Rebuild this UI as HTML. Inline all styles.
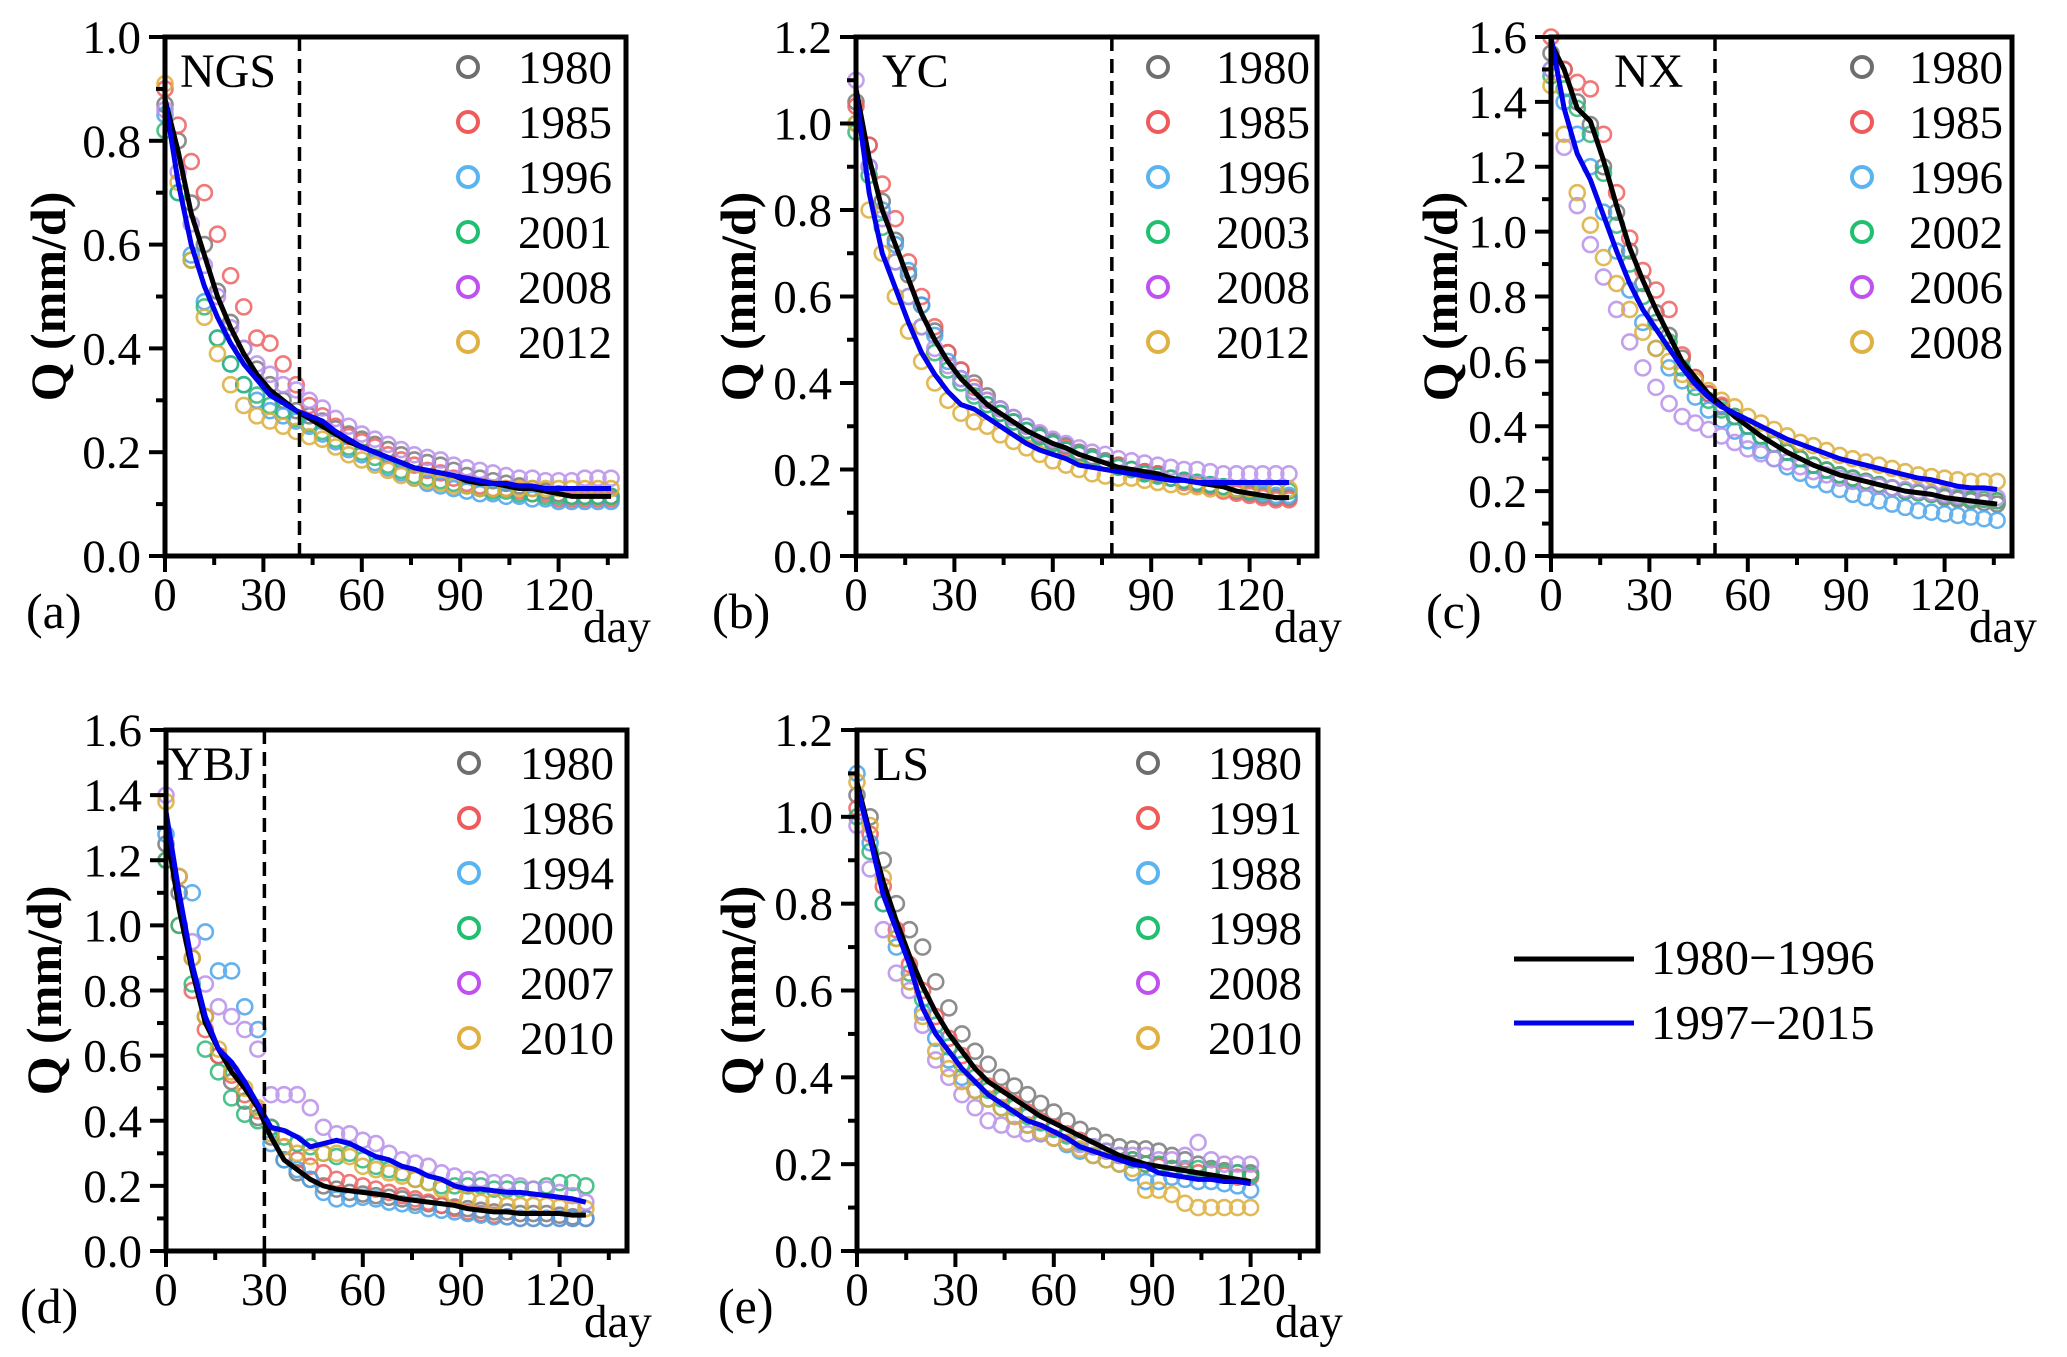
<!DOCTYPE html>
<html><head><meta charset="utf-8"><style>
html,body{margin:0;padding:0;background:#fff;}
svg{display:block;font-family:"Liberation Serif","Times New Roman",serif;}
</style></head><body>
<svg id="chart" width="2067" height="1357" viewBox="0 0 2067 1357" xmlns="http://www.w3.org/2000/svg">
<g id="legend">
<line x1="1514" y1="959" x2="1634" y2="959" stroke="#000" stroke-width="5"/>
<text x="1651" y="974" font-size="49">1980−1996</text>
<line x1="1514" y1="1023" x2="1634" y2="1023" stroke="#0000ee" stroke-width="5"/>
<text x="1651" y="1039" font-size="49">1997−2015</text>
</g>
</svg>
<script>
// ---- data (step of 4 days) ----
const stepDays = 4;
const colors = ["#6e6e6e","#f05a5a","#5ab4f0","#20c070","#c050f0","#e0b040"];
const dotColors = ["#7a7a7a","#f06060","#4aa4ea","#30b878","#b890ea","#dcae3a"];

const aYears = ["1980","1985","1996","2001","2008","2012"];
const aBlack = [0.88,0.78,0.66,0.58,0.50,0.44,0.39,0.35,0.32,0.30,0.28,0.265,0.25,0.235,0.22,0.21,0.20,0.19,0.18,0.17,0.165,0.16,0.155,0.145,0.14,0.14,0.135,0.13,0.13,0.125,0.12,0.115,0.115,0.115,0.115];
const aBlue = [0.88,0.72,0.60,0.52,0.46,0.41,0.37,0.34,0.31,0.295,0.28,0.27,0.26,0.24,0.225,0.21,0.20,0.19,0.18,0.17,0.165,0.16,0.155,0.15,0.145,0.14,0.14,0.135,0.135,0.13,0.13,0.13,0.13,0.13,0.13];
const aS1980 = [0.87,0.80,0.68,0.60,0.51,0.45,0.40,0.36,0.33,0.30,0.28,0.27,0.26,0.245,0.235,0.225,0.215,0.205,0.195,0.185,0.18,0.175,0.165,0.155,0.15,0.145,0.14,0.135,0.13,0.125,0.12,0.115,0.115,0.115,0.115];
const aS1985 = [0.90,0.83,0.76,0.70,0.62,0.54,0.48,0.42,0.41,0.37,0.33,0.29,0.27,0.25,0.23,0.22,0.21,0.195,0.185,0.175,0.165,0.16,0.15,0.14,0.135,0.13,0.13,0.125,0.12,0.12,0.11,0.11,0.11,0.11,0.11];
const aS1996 = [0.85,0.70,0.58,0.49,0.42,0.37,0.33,0.30,0.28,0.27,0.26,0.25,0.235,0.22,0.205,0.195,0.18,0.17,0.16,0.15,0.14,0.135,0.13,0.125,0.12,0.12,0.115,0.115,0.11,0.11,0.105,0.105,0.105,0.105,0.105];
const aS2001 = [0.82,0.70,0.57,0.48,0.42,0.37,0.33,0.31,0.29,0.28,0.265,0.255,0.24,0.225,0.21,0.20,0.19,0.175,0.165,0.155,0.15,0.145,0.14,0.135,0.13,0.125,0.125,0.12,0.12,0.115,0.115,0.115,0.115,0.115,0.115];
const aS2008 = [0.86,0.74,0.64,0.56,0.50,0.44,0.40,0.37,0.35,0.33,0.32,0.30,0.285,0.265,0.25,0.235,0.225,0.215,0.205,0.195,0.19,0.185,0.175,0.17,0.165,0.16,0.155,0.15,0.15,0.145,0.145,0.145,0.15,0.15,0.15];
const aS2012 = [0.91,0.72,0.57,0.46,0.39,0.33,0.29,0.27,0.26,0.25,0.24,0.23,0.225,0.21,0.195,0.185,0.175,0.165,0.155,0.15,0.145,0.14,0.135,0.135,0.13,0.13,0.13,0.13,0.13,0.13,0.13,0.13,0.13,0.13,0.13];

const bYears = ["1980","1985","1996","2003","2008","2012"];
const bBlack = [1.08,0.92,0.80,0.72,0.64,0.56,0.50,0.45,0.41,0.38,0.35,0.33,0.31,0.29,0.275,0.26,0.25,0.235,0.225,0.215,0.205,0.20,0.195,0.19,0.18,0.175,0.17,0.165,0.16,0.15,0.145,0.14,0.135,0.135];
const bBlue = [1.07,0.84,0.70,0.62,0.54,0.47,0.42,0.38,0.35,0.34,0.32,0.30,0.28,0.26,0.245,0.235,0.225,0.21,0.205,0.20,0.195,0.19,0.185,0.18,0.175,0.175,0.17,0.17,0.17,0.17,0.17,0.17,0.17,0.17];
const bS1980 = [1.05,0.95,0.82,0.73,0.65,0.58,0.52,0.47,0.43,0.40,0.37,0.34,0.32,0.30,0.28,0.265,0.255,0.24,0.23,0.22,0.21,0.20,0.195,0.19,0.18,0.175,0.17,0.165,0.16,0.15,0.145,0.14,0.135,0.135];
const bS1985 = [1.04,0.95,0.86,0.78,0.68,0.60,0.53,0.47,0.43,0.39,0.36,0.33,0.31,0.29,0.275,0.26,0.25,0.235,0.225,0.215,0.21,0.20,0.195,0.19,0.18,0.17,0.165,0.16,0.15,0.145,0.14,0.135,0.13,0.13];
const bS1996 = [1.00,0.90,0.80,0.72,0.66,0.58,0.51,0.45,0.41,0.38,0.35,0.33,0.31,0.29,0.275,0.26,0.245,0.235,0.225,0.215,0.205,0.20,0.19,0.185,0.18,0.175,0.17,0.165,0.16,0.155,0.15,0.145,0.14,0.14];
const bS2003 = [0.98,0.88,0.76,0.68,0.60,0.53,0.47,0.43,0.40,0.37,0.35,0.33,0.31,0.29,0.275,0.26,0.245,0.235,0.225,0.215,0.205,0.20,0.19,0.185,0.18,0.175,0.17,0.165,0.16,0.155,0.15,0.15,0.15,0.15];
const bS2008 = [1.10,0.90,0.78,0.68,0.60,0.53,0.48,0.44,0.41,0.38,0.36,0.34,0.32,0.30,0.285,0.27,0.26,0.25,0.24,0.235,0.225,0.22,0.215,0.21,0.205,0.20,0.20,0.195,0.19,0.19,0.19,0.19,0.19,0.19];
const bS2012 = [1.00,0.80,0.70,0.60,0.52,0.45,0.40,0.36,0.33,0.31,0.30,0.28,0.265,0.25,0.235,0.22,0.21,0.20,0.19,0.185,0.18,0.18,0.175,0.17,0.165,0.16,0.16,0.155,0.155,0.155,0.155,0.155,0.155,0.155];

const cYears = ["1980","1985","1996","2002","2006","2008"];
const cBlack = [1.58,1.50,1.38,1.34,1.22,1.08,0.95,0.85,0.76,0.68,0.60,0.55,0.50,0.465,0.43,0.40,0.37,0.345,0.32,0.30,0.28,0.265,0.25,0.24,0.23,0.22,0.21,0.20,0.195,0.19,0.18,0.175,0.17,0.165,0.16];
const cBlue = [1.60,1.38,1.24,1.16,1.05,0.94,0.84,0.76,0.70,0.64,0.58,0.53,0.49,0.46,0.44,0.42,0.40,0.38,0.36,0.345,0.33,0.315,0.30,0.29,0.28,0.27,0.26,0.25,0.24,0.235,0.225,0.215,0.21,0.21,0.205];
const cS1980 = [1.55,1.50,1.40,1.33,1.20,1.06,0.94,0.84,0.75,0.68,0.61,0.55,0.50,0.46,0.43,0.40,0.37,0.345,0.32,0.30,0.28,0.265,0.25,0.24,0.23,0.22,0.21,0.20,0.195,0.19,0.18,0.175,0.17,0.165,0.16];
const cS1985 = [1.60,1.50,1.46,1.44,1.30,1.12,0.98,0.88,0.82,0.76,0.62,0.55,0.50,0.465,0.43,0.40,0.37,0.345,0.32,0.30,0.28,0.265,0.25,0.24,0.23,0.22,0.21,0.20,0.195,0.19,0.185,0.18,0.175,0.175,0.17];
const cS1996 = [1.50,1.40,1.30,1.20,1.06,0.94,0.82,0.72,0.64,0.58,0.54,0.49,0.45,0.42,0.385,0.355,0.325,0.30,0.275,0.255,0.235,0.22,0.205,0.19,0.18,0.17,0.16,0.15,0.14,0.135,0.13,0.125,0.12,0.115,0.11];
const cS2002 = [1.48,1.44,1.38,1.30,1.18,1.02,0.90,0.80,0.72,0.66,0.58,0.52,0.48,0.45,0.43,0.40,0.37,0.345,0.32,0.30,0.28,0.265,0.25,0.24,0.23,0.22,0.21,0.20,0.195,0.19,0.185,0.18,0.175,0.175,0.17];
const cS2006 = [1.50,1.26,1.08,0.96,0.86,0.76,0.66,0.58,0.52,0.47,0.43,0.41,0.39,0.37,0.35,0.33,0.315,0.30,0.29,0.275,0.26,0.25,0.24,0.23,0.225,0.215,0.21,0.205,0.20,0.195,0.19,0.185,0.185,0.18,0.18];
const cS2008 = [1.45,1.30,1.12,1.02,0.92,0.84,0.76,0.69,0.64,0.60,0.56,0.54,0.51,0.48,0.46,0.43,0.41,0.39,0.37,0.35,0.34,0.325,0.31,0.30,0.29,0.28,0.27,0.26,0.25,0.245,0.24,0.235,0.23,0.23,0.23];

const dYears = ["1980","1986","1994","2000","2007","2010"];
const dBlack = [1.30,1.05,0.86,0.70,0.62,0.55,0.50,0.44,0.35,0.28,0.25,0.22,0.20,0.19,0.185,0.18,0.175,0.17,0.16,0.155,0.15,0.145,0.14,0.13,0.125,0.12,0.12,0.115,0.115,0.115,0.115,0.11,0.11];
const dBlue = [1.35,1.10,0.88,0.72,0.62,0.58,0.52,0.45,0.38,0.37,0.35,0.32,0.33,0.34,0.33,0.31,0.29,0.28,0.26,0.25,0.23,0.22,0.20,0.19,0.19,0.185,0.18,0.18,0.175,0.17,0.165,0.16,0.15];
const dS1980 = [1.25,1.10,0.90,0.72,0.60,0.52,0.46,0.41,0.35,0.28,0.24,0.22,0.20,0.19,0.18,0.175,0.17,0.165,0.16,0.15,0.145,0.14,0.135,0.13,0.125,0.12,0.12,0.115,0.115,0.115,0.11,0.105,0.10];
const dS1986 = [1.20,1.00,0.80,0.68,0.60,0.54,0.48,0.43,0.38,0.32,0.28,0.26,0.24,0.22,0.21,0.20,0.19,0.18,0.17,0.16,0.15,0.14,0.13,0.12,0.115,0.11,0.105,0.10,0.10,0.10,0.10,0.10,0.10];
const dS1994 = [1.28,1.15,1.10,0.98,0.86,0.86,0.75,0.68,0.33,0.28,0.25,0.22,0.18,0.16,0.16,0.165,0.16,0.15,0.145,0.14,0.13,0.125,0.12,0.115,0.11,0.105,0.105,0.10,0.10,0.10,0.10,0.10,0.10];
const dS2000 = [1.20,1.00,0.82,0.62,0.55,0.47,0.42,0.40,0.38,0.35,0.33,0.32,0.30,0.29,0.30,0.28,0.26,0.25,0.24,0.22,0.21,0.20,0.20,0.20,0.20,0.19,0.19,0.19,0.19,0.20,0.21,0.21,0.20];
const dS2007 = [1.40,1.15,0.95,0.82,0.75,0.72,0.68,0.62,0.48,0.48,0.48,0.44,0.38,0.36,0.36,0.34,0.33,0.30,0.28,0.27,0.26,0.24,0.23,0.22,0.22,0.21,0.21,0.20,0.19,0.19,0.18,0.17,0.15];
const dS2010 = [1.38,1.15,0.90,0.72,0.62,0.55,0.50,0.44,0.36,0.32,0.30,0.29,0.30,0.30,0.29,0.26,0.25,0.24,0.23,0.22,0.21,0.19,0.17,0.16,0.15,0.15,0.14,0.14,0.14,0.14,0.135,0.13,0.13];

const eYears = ["1980","1991","1988","1998","2008","2010"];
const eBlack = [1.08,0.96,0.85,0.76,0.68,0.61,0.55,0.50,0.46,0.42,0.39,0.37,0.35,0.33,0.31,0.295,0.28,0.265,0.25,0.235,0.22,0.21,0.20,0.195,0.19,0.185,0.18,0.175,0.17,0.165,0.16];
const eBlue = [1.07,0.95,0.82,0.74,0.66,0.56,0.50,0.46,0.42,0.39,0.36,0.34,0.32,0.30,0.29,0.275,0.26,0.24,0.23,0.22,0.21,0.20,0.195,0.18,0.175,0.17,0.165,0.165,0.16,0.16,0.155];
const eS1980 = [1.05,1.00,0.90,0.80,0.74,0.70,0.62,0.56,0.50,0.46,0.43,0.40,0.38,0.36,0.34,0.32,0.30,0.28,0.265,0.25,0.24,0.235,0.235,0.23,0.22,0.21,0.20,0.19,0.185,0.18,0.18];
const eS1991 = [1.02,0.96,0.84,0.74,0.66,0.60,0.54,0.49,0.45,0.41,0.38,0.36,0.34,0.32,0.30,0.285,0.27,0.255,0.24,0.23,0.22,0.21,0.20,0.195,0.19,0.185,0.18,0.18,0.175,0.17,0.17];
const eS1988 = [1.10,0.94,0.80,0.70,0.62,0.55,0.49,0.44,0.40,0.37,0.35,0.33,0.31,0.29,0.27,0.26,0.245,0.23,0.22,0.21,0.20,0.18,0.16,0.16,0.17,0.165,0.16,0.16,0.155,0.15,0.14];
const eS1998 = [1.00,0.92,0.80,0.72,0.64,0.58,0.52,0.47,0.43,0.40,0.37,0.35,0.33,0.31,0.295,0.28,0.265,0.25,0.24,0.23,0.22,0.21,0.20,0.20,0.19,0.19,0.19,0.185,0.18,0.18,0.175];
const eS2008 = [0.98,0.88,0.74,0.64,0.60,0.52,0.44,0.40,0.36,0.33,0.30,0.29,0.28,0.27,0.27,0.26,0.25,0.245,0.24,0.23,0.22,0.22,0.22,0.21,0.21,0.22,0.25,0.21,0.20,0.20,0.20];
const eS2010 = [1.08,0.98,0.86,0.72,0.62,0.54,0.46,0.42,0.39,0.37,0.35,0.33,0.31,0.29,0.275,0.26,0.25,0.235,0.22,0.21,0.20,0.19,0.14,0.14,0.13,0.11,0.10,0.10,0.10,0.10,0.10];

const panels = [
 {id:"a",name:"NGS",left:165,top:37,bottom:556,yMax:1.0,split:41,years:aYears,series:[aS1980,aS1985,aS1996,aS2001,aS2008,aS2012],black:aBlack,blue:aBlue,legX:468,legTextX:612,legY:67,nameX:180,titleX:48,labX:26},
 {id:"b",name:"YC",left:856,top:37,bottom:556,yMax:1.2,split:78,years:bYears,series:[bS1980,bS1985,bS1996,bS2003,bS2008,bS2012],black:bBlack,blue:bBlue,legX:1158,legTextX:1310,legY:67,nameX:882,titleX:738,labX:712},
 {id:"c",name:"NX",left:1551,top:37,bottom:556,yMax:1.6,split:50,years:cYears,series:[cS1980,cS1985,cS1996,cS2002,cS2006,cS2008],black:cBlack,blue:cBlue,legX:1862,legTextX:2003,legY:67,nameX:1614,titleX:1440,labX:1426},
 {id:"d",name:"YBJ",left:166,top:730,bottom:1251,yMax:1.6,split:30,years:dYears,series:[dS1980,dS1986,dS1994,dS2000,dS2007,dS2010],black:dBlack,blue:dBlue,legX:469,legTextX:614,legY:763,nameX:168,titleX:44,labX:20},
 {id:"e",name:"LS",left:857,top:730,bottom:1251,yMax:1.2,split:null,years:eYears,series:[eS1980,eS1991,eS1988,eS1998,eS2008,eS2010],black:eBlack,blue:eBlue,legX:1148,legTextX:1302,legY:763,nameX:873,titleX:738,labX:718}
];
const pxPerDay = 3.28;
const plotWidth = 461;
const NS = "http://www.w3.org/2000/svg";
const svg = document.getElementById("chart");
function mk(tag, attrs, parent){const e=document.createElementNS(NS,tag);for(const k in attrs)e.setAttribute(k,attrs[k]);(parent||svg).appendChild(e);return e;}

panels.forEach(p=>{
  const g = mk("g",{});
  
  
  const xs = d => p.left + d*pxPerDay;
  const ys = v => p.bottom - v/p.yMax*(p.bottom-p.top);
  p.series.forEach((s,si)=>{
    const sg = mk("g",{fill:"none",stroke:dotColors[si],"stroke-width":2.6,opacity:0.85},g);
    
    
    s.forEach((v,i)=>{
      const c = mk("circle",{cx:xs(i*stepDays),cy:ys(v),r:7.5},sg);
      
      
    });
  });
  [[p.black,"#000","line-1980-1996"],[p.blue,"#0000ee","line-1997-2015"]].forEach(([arr,col,nm])=>{
    const pl = mk("polyline",{points:arr.map((v,i)=>xs(i*stepDays)+","+ys(v)).join(" "),fill:"none",stroke:col,"stroke-width":5,"stroke-linejoin":"round"},g);
    
    
  });
  if(p.split!==null){
    const dl = mk("line",{x1:xs(p.split),x2:xs(p.split),y1:p.top,y2:p.bottom,stroke:"#000","stroke-width":3.5,"stroke-dasharray":"14,8"},g);
    
    
  }
  const fr = mk("rect",{x:p.left,y:p.top,width:plotWidth,height:p.bottom-p.top,fill:"none",stroke:"#000","stroke-width":5},g);
  
  
  for(let d=0; d<=135; d+=15){
    const major = d%30===0;
    const t = mk("line",{x1:xs(d),x2:xs(d),y1:p.bottom,y2:p.bottom+(major?16:9),stroke:"#000","stroke-width":4},g);
    
    
    if(major){
      const tl = mk("text",{x:xs(d),y:p.bottom+54,"font-size":47,"text-anchor":"middle"},g);
      tl.textContent = d;
      
      
    }
  }
  const day = mk("text",{x:p.left+418,y:p.bottom+86,"font-size":47},g);
  day.textContent = "day";
  
  
  const nSteps = Math.round(p.yMax/0.1);
  for(let k=0;k<=nSteps;k++){
    const v = k*0.1, major = k%2===0;
    const t = mk("line",{x1:p.left,x2:p.left-(major?16:9),y1:ys(v),y2:ys(v),stroke:"#000","stroke-width":4},g);
    
    
    if(major){
      const tl = mk("text",{x:p.left-24,y:ys(v)+16,"font-size":47,"text-anchor":"end"},g);
      tl.textContent = v.toFixed(1);
      
      
    }
  }
  const cy = (p.top+p.bottom)/2;
  const yt = mk("text",{x:p.titleX,y:cy,"font-size":50,"font-weight":"bold","text-anchor":"middle",transform:"rotate(-90 "+p.titleX+" "+cy+")","dominant-baseline":"central"},g);
  yt.textContent = "Q (mm/d)";
  
  
  const sn = mk("text",{x:p.nameX,y:p.top+50,"font-size":48},g);
  sn.textContent = p.name;
  
  
  const pl = mk("text",{x:p.labX,y:p.bottom+72,"font-size":50},g);
  pl.textContent = "("+p.id+")";
  
  
  p.years.forEach((yr,i)=>{
    const ly = p.legY + i*55;
    const lc = mk("circle",{cx:p.legX,cy:ly,r:10,fill:"none",stroke:colors[i],"stroke-width":4},g);
    
    
    const lt = mk("text",{x:p.legTextX,y:ly+16,"font-size":47,"text-anchor":"end"},g);
    lt.textContent = yr;
    
    
  });
});
</script>
</body></html>
